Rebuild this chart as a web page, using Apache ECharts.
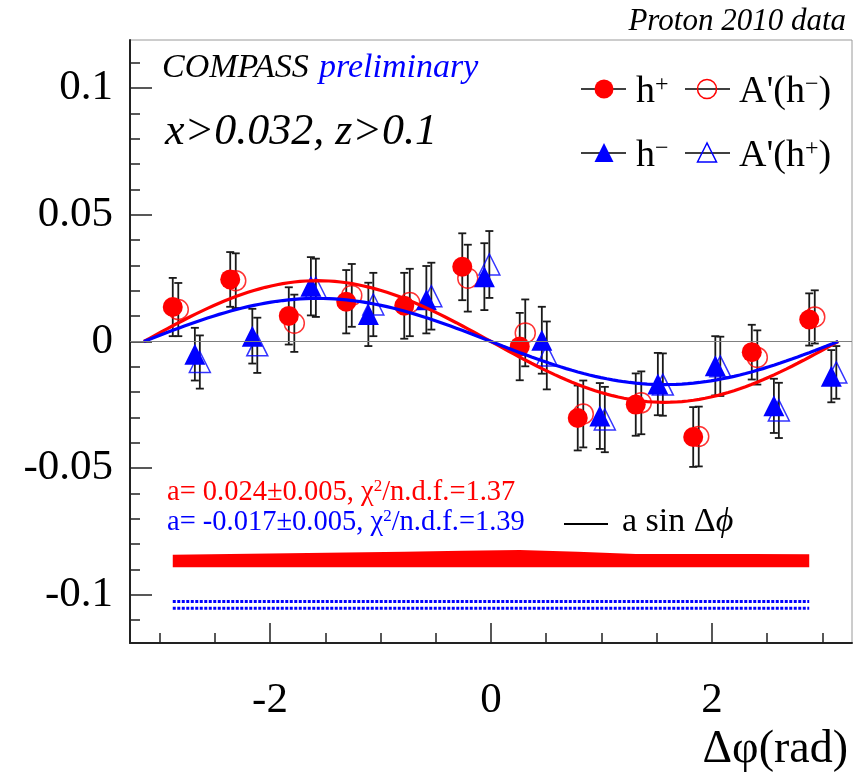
<!DOCTYPE html>
<html>
<head>
<meta charset="utf-8">
<script src="https://cdn.jsdelivr.net/npm/echarts@6/dist/echarts.min.js"></script>
<style>
  html, body { margin: 0; padding: 0; background: #fff; }
  #chart { width: 862px; height: 781px; }
</style>
</head>
<body>
<div id="chart"></div>
<script>
// Delta phi positions (rad) of each sample, points are shifted a bit for readability
var hPlusX  = [-2.88, -2.36, -1.83, -1.31, -0.785, -0.26, 0.26, 0.785, 1.31, 1.83, 2.36, 2.88];
var aMinusX = [-2.83, -2.31, -1.78, -1.26, -0.735, -0.21, 0.31, 0.835, 1.36, 1.88, 2.41, 2.93];
var hMinusX = [-2.68, -2.16, -1.63, -1.11, -0.585, -0.06, 0.46, 0.985, 1.51, 2.03, 2.56, 3.08];
var aPlusX  = [-2.635, -2.115, -1.585, -1.065, -0.54, -0.015, 0.505, 1.03, 1.555, 2.075, 2.605, 3.125];

// asymmetries and stat. errors
var hPlusY    = [0.0136, 0.0245, 0.0101, 0.0157, 0.0141, 0.0295, -0.0020, -0.0302, -0.0249, -0.0377, -0.0042, 0.0087];
var hPlusErr  = [0.0115, 0.0108, 0.0113, 0.0125, 0.0130, 0.0132, 0.0133, 0.0128, 0.0123, 0.0118, 0.0108, 0.0103];
var aMinusY   = [0.0126, 0.0240, 0.0072, 0.0182, 0.0154, 0.0250, 0.0034, -0.0286, -0.0242, -0.0375, -0.0063, 0.0097];
var aMinusErr = [0.0105, 0.0108, 0.0113, 0.0124, 0.0133, 0.0132, 0.0132, 0.0132, 0.0124, 0.0118, 0.0107, 0.0105];
var hMinusY   = [-0.0050, 0.0021, 0.0218, 0.0107, 0.0165, 0.0256, 0.0005, -0.0294, -0.0168, -0.0096, -0.0254, -0.0137];
var hMinusErr = [0.0104, 0.0108, 0.0115, 0.0125, 0.0133, 0.0132, 0.0132, 0.0130, 0.0123, 0.0117, 0.0107, 0.0103];
var aPlusY    = [-0.0081, -0.0015, 0.0212, 0.0146, 0.0179, 0.0304, -0.0055, -0.0308, -0.0170, -0.0098, -0.0272, -0.0122];
var aPlusErr  = [0.0105, 0.0109, 0.0115, 0.0125, 0.0132, 0.0132, 0.0134, 0.0129, 0.0123, 0.0117, 0.0109, 0.0104];

// systematic bands (bin centres)
var bandX       = [-2.88, -2.36, -1.83, -1.31, -0.785, -0.26, 0.26, 0.785, 1.31, 1.83, 2.36, 2.88];
var redBandTop  = [-0.0842, -0.0839, -0.0836, -0.0833, -0.0830, -0.0826, -0.0823, -0.0830, -0.0839, -0.0839, -0.0839, -0.0840];
var redBandBot  = [-0.0891, -0.0891, -0.0891, -0.0891, -0.0891, -0.0891, -0.0891, -0.0891, -0.0891, -0.0891, -0.0891, -0.0891];
var blueBandTop = [-0.1026, -0.1026, -0.1026, -0.1026, -0.1026, -0.1026, -0.1026, -0.1026, -0.1026, -0.1026, -0.1026, -0.1026];
var blueBandBot = [-0.1053, -0.1053, -0.1053, -0.1053, -0.1053, -0.1053, -0.1053, -0.1053, -0.1053, -0.1053, -0.1053, -0.1053];

// fitted amplitudes of the a sin(dphi) curves, as drawn
var fitRed = 0.024;
var fitBlue = 0.017;

var xMajor = [-2, 0, 2];
var xMinor = [-3, -2.5, -1.5, -1, -0.5, 0.5, 1, 1.5, 2.5, 3];
var yMajor = [-0.1, -0.05, 0, 0.05, 0.1];
var yMinor = [-0.11, -0.09, -0.08, -0.07, -0.06, -0.04, -0.03, -0.02, -0.01,
              0.01, 0.02, 0.03, 0.04, 0.06, 0.07, 0.08, 0.09, 0.11];

var serif = '"Liberation Serif", "DejaVu Serif", serif';
var RED = '#ff0000', BLUE = '#0000ff';

function zip(a, b, c) {
  return a.map(function (v, i) { return c ? [v, b[i], c[i]] : [v, b[i]]; });
}

function fitCurve(amp) {
  var pts = [];
  for (var i = 0; i <= 120; i++) {
    var x = -Math.PI + i * Math.PI / 60;
    pts.push([x, -amp * Math.sin(x)]);
  }
  return pts;
}

function errorSeries(xs, ys, es) {
  return {
    type: 'custom',
    data: zip(xs, ys, es),
    encode: {x: 0, y: 1},
    z: 3,
    renderItem: function (params, api) {
      var x = api.value(0), y = api.value(1), e = api.value(2);
      var hi = api.coord([x, y + e]), lo = api.coord([x, y - e]);
      var c = 4;
      var st = {stroke: '#1a1a1a', lineWidth: 1.8};
      return {type: 'group', children: [
        {type: 'line', shape: {x1: hi[0], y1: hi[1], x2: lo[0], y2: lo[1]}, style: st},
        {type: 'line', shape: {x1: hi[0] - c, y1: hi[1], x2: hi[0] + c, y2: hi[1]}, style: st},
        {type: 'line', shape: {x1: lo[0] - c, y1: lo[1], x2: lo[0] + c, y2: lo[1]}, style: st}
      ]};
    }
  };
}

function markerSeries(xs, ys, symbol, size, color, open) {
  return {
    type: 'scatter',
    data: zip(xs, ys),
    symbol: symbol,
    symbolSize: size,
    z: 3,
    itemStyle: open ? {color: 'rgba(0,0,0,0)', borderColor: color, borderWidth: 1.5}
                    : {color: color, opacity: 1},
    emphasis: {disabled: true}
  };
}

var chart = echarts.init(document.getElementById('chart'));

var supRich = {
  s: {fontSize: 24, fontFamily: serif, verticalAlign: 'top', lineHeight: 24, fill: '#000'}
};

chart.setOption({
  animation: false,
  grid: {left: 130, right: 10, top: 40, bottom: 138, show: true, borderColor: '#9a9a9a', borderWidth: 1},
  xAxis: [{
    type: 'value', min: -3.267, max: 3.267,
    axisLine: {show: true, onZero: false, lineStyle: {color: '#222', width: 2}},
    axisTick: {show: true, inside: true, length: 20, customValues: xMajor, lineStyle: {color: '#222', width: 1.5}},
    axisLabel: {show: true, customValues: xMajor, margin: 36, fontFamily: serif, fontSize: 43, color: '#000',
      formatter: function (v) { return String(v); }},
    splitLine: {show: false}
  }, {
    type: 'value', min: -3.267, max: 3.267, position: 'bottom',
    axisLine: {show: false, onZero: false},
    axisTick: {show: true, inside: true, length: 10, customValues: xMinor, lineStyle: {color: '#222', width: 1.5}},
    axisLabel: {show: false},
    splitLine: {show: false}
  }],
  yAxis: [{
    type: 'value', min: -0.119, max: 0.119,
    axisLine: {show: true, onZero: false, lineStyle: {color: '#222', width: 2}},
    axisTick: {show: true, inside: true, length: 22, customValues: yMajor, lineStyle: {color: '#222', width: 1.5}},
    axisLabel: {show: true, customValues: yMajor, margin: 17, fontFamily: serif, fontSize: 43, color: '#000',
      formatter: function (v) { return String(v); }},
    splitLine: {show: false}
  }, {
    type: 'value', min: -0.119, max: 0.119, position: 'left',
    axisLine: {show: false, onZero: false},
    axisTick: {show: true, inside: true, length: 10, customValues: yMinor, lineStyle: {color: '#222', width: 1.5}},
    axisLabel: {show: false},
    splitLine: {show: false}
  }],
  series: [
    // red systematic band
    {
      type: 'custom', data: [0], z: 2,
      renderItem: function (params, api) {
        var pts = [];
        bandX.forEach(function (x, i) { pts.push(api.coord([x, redBandTop[i]])); });
        for (var i = bandX.length - 1; i >= 0; i--) pts.push(api.coord([bandX[i], redBandBot[i]]));
        return {type: 'polygon', shape: {points: pts}, style: {fill: RED}};
      }
    },
    {type: 'line', data: zip(bandX, blueBandTop), symbol: 'none', z: 2,
      lineStyle: {color: BLUE, width: 3, type: [3, 1.5]}},
    {type: 'line', data: zip(bandX, blueBandBot), symbol: 'none', z: 2,
      lineStyle: {color: BLUE, width: 3, type: [3, 1.5]}},

    errorSeries(hPlusX, hPlusY, hPlusErr),
    markerSeries(hPlusX, hPlusY, 'circle', 20, RED, false),
    errorSeries(aMinusX, aMinusY, aMinusErr),
    markerSeries(aMinusX, aMinusY, 'circle', 20, RED, true),
    errorSeries(hMinusX, hMinusY, hMinusErr),
    markerSeries(hMinusX, hMinusY, 'triangle', 21, BLUE, false),
    errorSeries(aPlusX, aPlusY, aPlusErr),
    markerSeries(aPlusX, aPlusY, 'triangle', 21, BLUE, true),

    {
      type: 'line', data: fitCurve(fitRed), symbol: 'none', smooth: false, z: 4,
      lineStyle: {color: RED, width: 3.2},
      markLine: {silent: true, symbol: 'none', label: {show: false},
        lineStyle: {color: '#808080', width: 1.2, type: 'solid'}, data: [{yAxis: 0}]}
    },
    {type: 'line', data: fitCurve(fitBlue), symbol: 'none', smooth: false, z: 4,
      lineStyle: {color: BLUE, width: 3.2}}
  ],
  graphic: [
    {type: 'text', x: 846, y: 22, style: {text: 'Proton 2010 data', font: 'italic 31px ' + serif,
      fill: '#000', align: 'right', verticalAlign: 'middle'}},
    {type: 'text', x: 162, y: 68, style: {text: 'COMPASS', font: 'italic 34px ' + serif,
      fill: '#000', align: 'left', verticalAlign: 'middle'}},
    {type: 'text', x: 319, y: 68, style: {text: 'preliminary', font: 'italic 34px ' + serif,
      fill: BLUE, align: 'left', verticalAlign: 'middle'}},
    {type: 'text', x: 165, y: 132, style: {text: 'x>0.032, z>0.1', font: 'italic 44px ' + serif,
      fill: '#000', align: 'left', verticalAlign: 'middle'}},

    // legend
    {type: 'line', shape: {x1: 581, y1: 89, x2: 626, y2: 89}, style: {stroke: '#000', lineWidth: 1.5}},
    {type: 'circle', shape: {cx: 604, cy: 89, r: 9.5}, style: {fill: RED}},
    {type: 'text', x: 636, y: 92, style: {text: 'h{s|+}', font: '38px ' + serif, fill: '#000',
      verticalAlign: 'middle', rich: supRich}},
    {type: 'line', shape: {x1: 685, y1: 89, x2: 730, y2: 89}, style: {stroke: '#000', lineWidth: 1.5}},
    {type: 'circle', shape: {cx: 707, cy: 89, r: 9.5}, style: {fill: 'none', stroke: RED, lineWidth: 1.5}},
    {type: 'text', x: 739, y: 92, style: {text: "A'(h{s|\u2212})", font: '38px ' + serif, fill: '#000',
      verticalAlign: 'middle', rich: supRich}},

    {type: 'line', shape: {x1: 581, y1: 153, x2: 626, y2: 153}, style: {stroke: '#000', lineWidth: 1.5}},
    {type: 'polygon', shape: {points: [[604, 143], [594.5, 162], [613.5, 162]]}, style: {fill: BLUE}},
    {type: 'text', x: 636, y: 156, style: {text: 'h{s|\u2212}', font: '38px ' + serif, fill: '#000',
      verticalAlign: 'middle', rich: supRich}},
    {type: 'line', shape: {x1: 685, y1: 153, x2: 730, y2: 153}, style: {stroke: '#000', lineWidth: 1.5}},
    {type: 'polygon', shape: {points: [[707, 143], [697.5, 162], [716.5, 162]]},
      style: {fill: 'none', stroke: BLUE, lineWidth: 1.5}},
    {type: 'text', x: 739, y: 156, style: {text: "A'(h{s|+})", font: '38px ' + serif, fill: '#000',
      verticalAlign: 'middle', rich: supRich}},

    // fit results
    {type: 'text', x: 167, y: 493, style: {text: 'a= 0.024\u00b10.005, \u03c7{t|2}/n.d.f.=1.37',
      font: '28.5px ' + serif, fill: RED, verticalAlign: 'middle',
      rich: {t: {fontSize: 17, fontFamily: serif, verticalAlign: 'top', lineHeight: 17, fill: RED}}}},
    {type: 'text', x: 167, y: 523, style: {text: 'a= -0.017\u00b10.005, \u03c7{t|2}/n.d.f.=1.39',
      font: '28.5px ' + serif, fill: BLUE, verticalAlign: 'middle',
      rich: {t: {fontSize: 17, fontFamily: serif, verticalAlign: 'top', lineHeight: 17, fill: BLUE}}}},
    {type: 'line', shape: {x1: 564, y1: 524, x2: 608, y2: 524}, style: {stroke: '#000', lineWidth: 2}},
    {type: 'text', x: 622, y: 522, style: {text: 'a sin \u0394{i|\u03d5}', font: '34px ' + serif,
      fill: '#000', verticalAlign: 'middle',
      rich: {i: {fontSize: 34, fontFamily: serif, fontStyle: 'italic', fill: '#000'}}}},

    // x axis title
    {type: 'text', x: 848, y: 750, style: {text: '\u0394\u03c6(rad)', font: '46px ' + serif,
      fill: '#000', align: 'right', verticalAlign: 'middle'}}
  ]
});
</script>
</body>
</html>
